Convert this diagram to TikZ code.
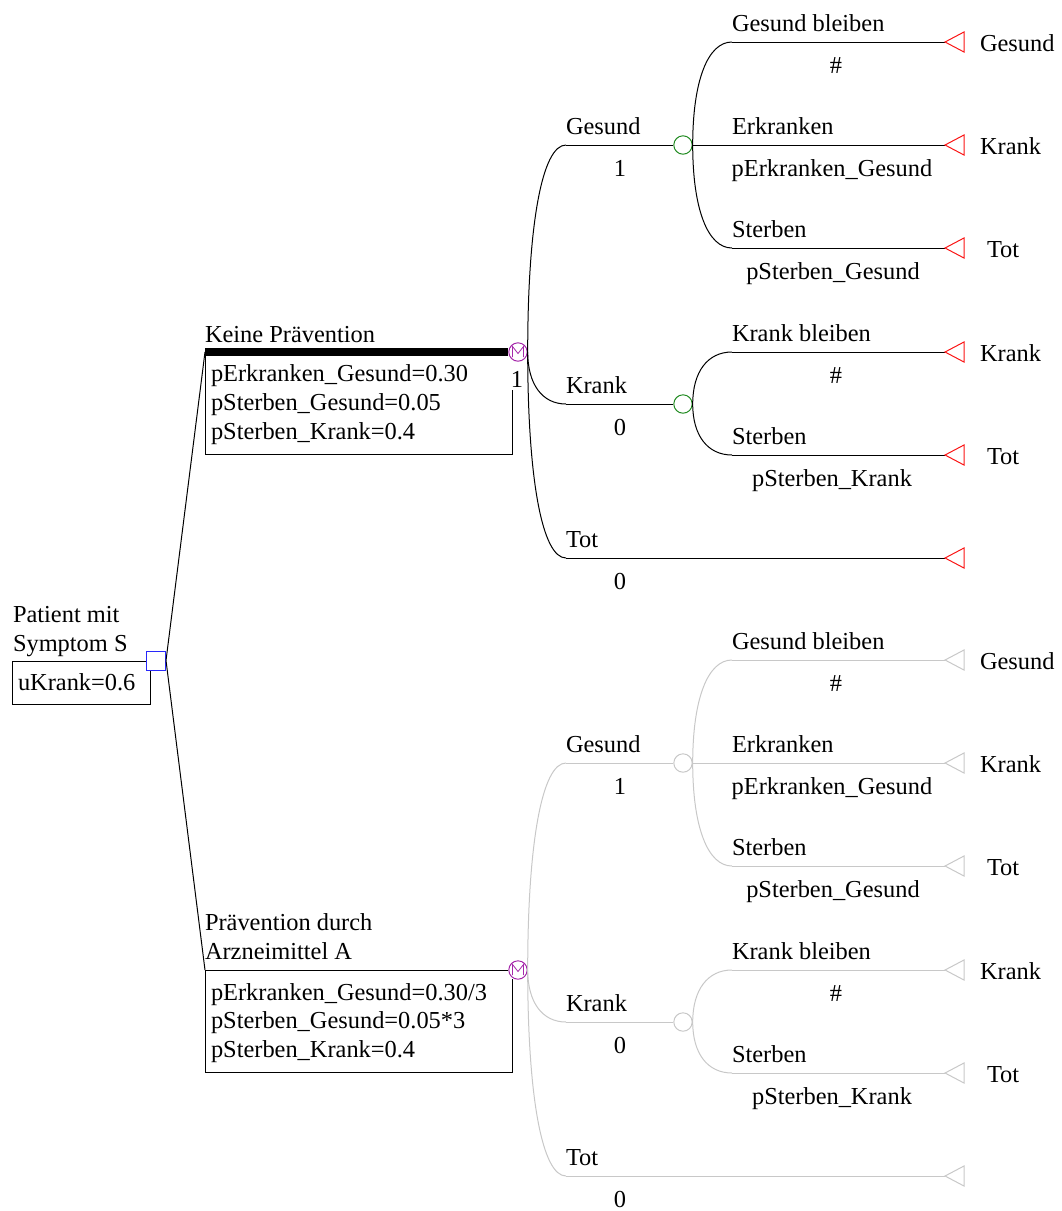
\documentclass[tikz,border=0pt]{standalone}
\usepackage{fontspec}
\setmainfont{Liberation Serif}
\usetikzlibrary{calc}
\definecolor{decblue}{RGB}{40,40,250}
\definecolor{chgreen}{RGB}{35,140,35}
\definecolor{mkpurple}{RGB}{165,40,170}
\definecolor{termred}{RGB}{250,20,20}
\definecolor{offgray}{RGB}{200,200,200}
\tikzset{
  lbl/.style={font=\fontsize{18.3pt}{22pt}\selectfont, inner sep=0pt, outer sep=0pt},
  lw/.style={lbl, anchor=base west},
  lc/.style={lbl, anchor=base},
  tree/.style={line width=0.75pt, black},
  treeoff/.style={line width=0.75pt, offgray},
  decbox/.style={rectangle, draw=decblue, fill=white, minimum size=14.25pt, inner sep=0pt, line width=0.75pt},
  markov/.style={circle, draw=mkpurple, fill=white, minimum size=13.8pt, inner sep=0pt, line width=0.75pt},
  chance/.style={circle, draw=chgreen, fill=white, minimum size=13.8pt, inner sep=0pt, line width=0.75pt},
  chanceoff/.style={chance, draw=offgray},
  term/.style={draw=termred, line width=0.75pt},
  termoff/.style={draw=offgray, line width=0.75pt},
  mletter/.style={draw=mkpurple, line width=0.6pt, line join=miter},
  parambox/.style={line width=0.75pt, black},
  strongbar/.style={line width=6pt, black},
}
% rounded branch: leaves the start vertically, arrives horizontally
\newcommand\curvebranch[3]{%
  \draw[#1] let \p1=(#2), \p2=(#3) in
    (\p1) .. controls (\x1,{\y1+0.62*(\y2-\y1)}) and ({\x2-0.62*(\x2-\x1)},\y2) .. (\p2);}
% terminal node: triangle with its tip on the branch end
\newcommand\termtri[2]{\draw[#1] (#2) -- ++(19,-10) -- ++(0,20) -- cycle;}
% the letter M inside a Markov node
\newcommand\markovM[1]{\draw[mletter] ($(#1)+(-5.5,5)$) -- ++(0,-10.5) -- ($(#1)+(0,1.5)$) -- ($(#1)+(5.5,-5.5)$) -- ++(0,10.5);}
% Markov subtree: #1 suffix, #2 vertical offset, #3 line style, #4 chance style, #5 terminal style
\newcommand\markovtree[5]{%
  % health states
  \coordinate (a1#1) at (566,{145+#2});
  \coordinate (a2#1) at (566,{404+#2});
  \coordinate (a3#1) at (566,{558+#2});
  \node[#4] (c1#1) at (683,{145+#2}) {};
  \node[#4] (c2#1) at (683,{404+#2}) {};
  \coordinate (t6#1) at (945,{558+#2});
  \curvebranch{#3}{m#1.east}{a1#1}
  \curvebranch{#3}{m#1.east}{a2#1}
  \curvebranch{#3}{m#1.east}{a3#1}
  \draw[#3] (a1#1) -- (c1#1.west);
  \draw[#3] (a2#1) -- (c2#1.west);
  \draw[#3] (a3#1) -- (t6#1);
  % transitions
  \coordinate (s1#1) at (732,{42+#2});
  \coordinate (s3#1) at (732,{248+#2});
  \coordinate (s4#1) at (732,{352+#2});
  \coordinate (s5#1) at (732,{455+#2});
  \coordinate (t1#1) at (945,{42+#2});
  \coordinate (t2#1) at (945,{145+#2});
  \coordinate (t3#1) at (945,{248+#2});
  \coordinate (t4#1) at (945,{352+#2});
  \coordinate (t5#1) at (945,{455+#2});
  \curvebranch{#3}{c1#1.east}{s1#1}
  \curvebranch{#3}{c1#1.east}{s3#1}
  \curvebranch{#3}{c2#1.east}{s4#1}
  \curvebranch{#3}{c2#1.east}{s5#1}
  \draw[#3] (s1#1) -- (t1#1);
  \draw[#3] (c1#1.east) -- (t2#1);
  \draw[#3] (s3#1) -- (t3#1);
  \draw[#3] (s4#1) -- (t4#1);
  \draw[#3] (s5#1) -- (t5#1);
  \termtri{#5}{t1#1}\termtri{#5}{t2#1}\termtri{#5}{t3#1}
  \termtri{#5}{t4#1}\termtri{#5}{t5#1}\termtri{#5}{t6#1}
  % state labels
  \node[lw] (lg#1) at (566,{134+#2}) {Gesund};
  \node[lc] (pg#1) at (620,{176+#2}) {1};
  \node[lw] (lk#1) at (566,{393+#2}) {Krank};
  \node[lc] (pk#1) at (620,{435+#2}) {0};
  \node[lw] (lt#1) at (566,{547+#2}) {Tot};
  \node[lc] (pt#1) at (620,{589+#2}) {0};
  % transition labels
  \node[lw] (l1#1) at (732,{31+#2}) {Gesund bleiben};
  \node[lc] (q1#1) at (836,{73+#2}) {\#};
  \node[lw] (l2#1) at (732,{134+#2}) {Erkranken};
  \node[lc] (q2#1) at (832,{176+#2}) {pErkranken\_Gesund};
  \node[lw] (l3#1) at (732,{237+#2}) {Sterben};
  \node[lc] (q3#1) at (833,{279+#2}) {pSterben\_Gesund};
  \node[lw] (l4#1) at (732,{341+#2}) {Krank bleiben};
  \node[lc] (q4#1) at (836,{383+#2}) {\#};
  \node[lw] (l5#1) at (732,{444+#2}) {Sterben};
  \node[lc] (q5#1) at (832,{486+#2}) {pSterben\_Krank};
  % terminal labels
  \node[lw] (e1#1) at (980,{51+#2}) {Gesund};
  \node[lw] (e2#1) at (980,{154+#2}) {Krank};
  \node[lw] (e3#1) at (987,{257+#2}) {Tot};
  \node[lw] (e4#1) at (980,{361+#2}) {Krank};
  \node[lw] (e5#1) at (987,{464+#2}) {Tot};
}
\begin{document}
\begin{tikzpicture}[x=0.75pt,y=-0.75pt]
\useasboundingbox (0,0) rectangle (1062,1211);

% root: decision
\draw[parambox] (12,661) rectangle (150,704);
\node[lw] (root1) at (13,622) {Patient mit};
\node[lw] (root2) at (13,651) {Symptom S};
\node[lw] (ukr) at (18,690) {uKrank=0.6};
\node[decbox] (dec) at (156,660.5) {};

% strategy: no prevention (chosen)
\coordinate (kA) at (205,352);
\node[markov] (mA) at (518,352) {};
\markovM{mA}
\draw[tree] (dec.east) -- (kA);
\draw[strongbar] (kA) -- (mA.west);
\draw[parambox] (205,352) -- (205,454) -- (512,454) -- (512,390);
\node[lw] (nameA) at (205,342) {Keine Prävention};
\node[lw] (parA1) at (211,381) {pErkranken\_Gesund=0.30};
\node[lw] (parA2) at (211,410) {pSterben\_Gesund=0.05};
\node[lw] (parA3) at (211,439) {pSterben\_Krank=0.4};
\node[lc] (probA) at (517,387) {1};
\markovtree{A}{0}{tree}{chance}{term}

% strategy: prevention by drug A
\coordinate (kB) at (205,970);
\node[markov] (mB) at (518,970) {};
\markovM{mB}
\draw[tree] (dec.east) -- (kB);
\draw[tree] (kB) -- (mB.west);
\draw[parambox] (205,970) -- (205,1072) -- (512,1072) -- (512,979);
\node[lw] (nameB1) at (205,930) {Prävention durch};
\node[lw] (nameB2) at (205,959) {Arzneimittel A};
\node[lw] (parB1) at (211,1000) {pErkranken\_Gesund=0.30/3};
\node[lw] (parB2) at (211,1028) {pSterben\_Gesund=0.05*3};
\node[lw] (parB3) at (211,1057) {pSterben\_Krank=0.4};
\markovtree{B}{618}{treeoff}{chanceoff}{termoff}
\end{tikzpicture}
\end{document}
